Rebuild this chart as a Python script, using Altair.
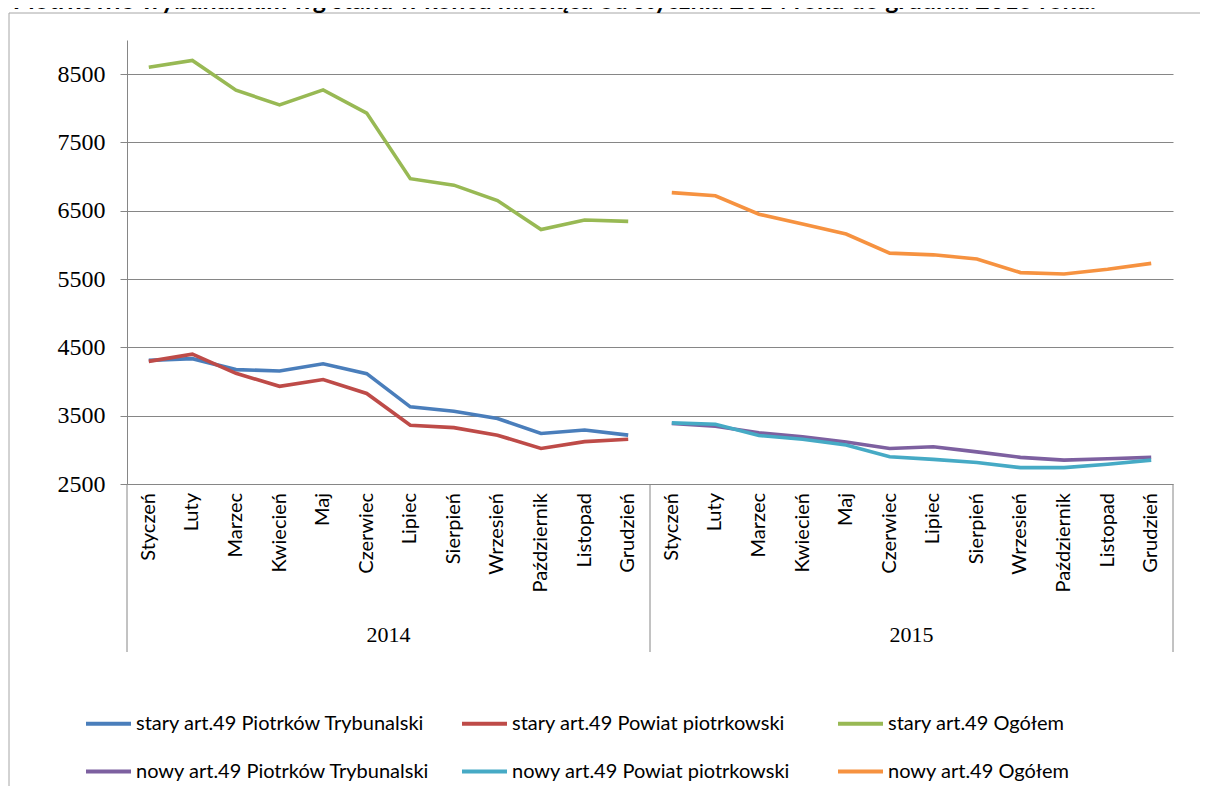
import altair as alt
import pandas as pd

months = ["Styczeń", "Luty", "Marzec", "Kwiecień", "Maj", "Czerwiec", "Lipiec",
          "Sierpień", "Wrzesień", "Październik", "Listopad", "Grudzień"]
years = ["2014", "2015"]

series_names = [
    "stary art.49 Piotrków Trybunalski",
    "stary art.49 Powiat piotrkowski",
    "stary art.49 Ogółem",
    "nowy art.49 Piotrków Trybunalski",
    "nowy art.49 Powiat piotrkowski",
    "nowy art.49 Ogółem",
]
colors = ["#4A7EBB", "#BE4B48", "#98B954", "#7D60A0", "#46AAC5", "#F69240"]

stary_pt = [4310, 4335, 4175, 4155, 4260, 4115, 3630, 3565, 3460, 3240, 3290, 3215]
stary_pow = [4295, 4400, 4120, 3930, 4030, 3825, 3360, 3325, 3215, 3020, 3120, 3155]
stary_og = [8600, 8700, 8265, 8050, 8270, 7930, 6970, 6875, 6650, 6225, 6365, 6345]
nowy_pt = [3385, 3345, 3250, 3190, 3115, 3020, 3045, 2970, 2890, 2850, 2870, 2890]
nowy_pow = [3395, 3375, 3210, 3155, 3070, 2900, 2860, 2815, 2740, 2740, 2790, 2850]
nowy_og = [6765, 6720, 6450, 6305, 6160, 5880, 5855, 5795, 5595, 5575, 5645, 5730]

y_ticks = [2500, 3500, 4500, 5500, 6500, 7500, 8500]
title_text = "w Piotrkowie Trybunalskim wg stanu w końcu miesiąca od stycznia 2014 roku do grudnia 2015 roku."

# ---- build tables ----
rows = []
for name, vals, yi in [
    (series_names[0], stary_pt, 0), (series_names[1], stary_pow, 0), (series_names[2], stary_og, 0),
    (series_names[3], nowy_pt, 1), (series_names[4], nowy_pow, 1), (series_names[5], nowy_og, 1),
]:
    for m, v in enumerate(vals):
        rows.append({"series": name, "pos": yi * 12 + m + 0.5, "value": v})
df = pd.DataFrame(rows)

# legend is filled column by column (2 rows x 3 columns): reorder so rows read as in the reference
legend_order = [series_names[i] for i in (0, 3, 1, 4, 2, 5)]
legend_colors = [colors[i] for i in (0, 3, 1, 4, 2, 5)]

month_df = pd.DataFrame([{"pos": yi * 12 + m + 0.5, "label": months[m]}
                         for yi in range(2) for m in range(12)])
year_df = pd.DataFrame([{"pos": yi * 12 + 6, "label": years[yi]} for yi in range(2)])
sep_df = pd.DataFrame({"pos": [0, 12, 24]})

W, H = 1046, 444
GRID = "#868686"

xscale = alt.Scale(domain=[0, 24])

lines = alt.Chart(df).mark_line(strokeWidth=3.6).encode(
    x=alt.X("pos:Q", scale=xscale, axis=None),
    y=alt.Y("value:Q",
            scale=alt.Scale(domain=[2500, 9000], nice=False, zero=False),
            axis=alt.Axis(values=y_ticks, title=None, grid=True, gridColor=GRID, format="d",
                          domainColor=GRID, tickColor=GRID, tickSize=7,
                          labelFont="Liberation Serif", labelFontSize=24,
                          labelColor="black", labelPadding=15)),
    color=alt.Color("series:N",
                    scale=alt.Scale(domain=legend_order, range=legend_colors),
                    sort=legend_order,
                    legend=alt.Legend(title=None, orient="none", legendX=-43, legendY=659,
                                      columns=3, gridAlign="all", symbolType="stroke",
                                      symbolStrokeWidth=4, symbolSize=2025,
                                      labelFont="Lato", labelFontSize=20,
                                      labelColor="black", labelLimit=500,
                                      labelOffset=3, columnPadding=24, rowPadding=13)),
)

month_labels = alt.Chart(month_df).mark_text(
    angle=270, align="right", baseline="middle", font="Lato", fontSize=20, color="black"
).encode(x=alt.X("pos:Q", scale=xscale), y=alt.value(H + 9), text="label:N")

year_labels = alt.Chart(year_df).mark_text(
    align="center", baseline="middle", font="Liberation Serif", fontSize=22, color="black"
).encode(x=alt.X("pos:Q", scale=xscale), y=alt.value(H + 151), text="label:N")

seps = alt.Chart(sep_df).mark_rule(color=GRID, strokeWidth=1).encode(
    x=alt.X("pos:Q", scale=xscale), y=alt.value(H), y2=alt.value(H + 168))

frame_left = alt.Chart(sep_df.head(1)).mark_rule(color="#A6A6A6", strokeWidth=1).encode(
    x=alt.value(-118), y=alt.value(-27), y2=alt.value(H + 400))
frame_top = alt.Chart(sep_df.head(1)).mark_rule(color="#A6A6A6", strokeWidth=1).encode(
    x=alt.value(-118), x2=alt.value(W + 60), y=alt.value(-27))

title = alt.Chart(pd.DataFrame({"t": [title_text]})).mark_text(
    align="right", baseline="alphabetic", font="Lato", fontSize=25, fontWeight="bold",
    color="black"
).encode(x=alt.value(969), y=alt.value(-31), text="t:N")

chart = alt.layer(frame_left, frame_top, title, lines, month_labels, year_labels, seps).properties(
    width=W, height=H,
    autosize=alt.AutoSizeParams(type="none"),
    padding={"left": 119, "top": 32, "right": 27, "bottom": 302},
    background="white",
).configure_view(strokeWidth=0)

chart.save("out.html", embed_options={"renderer": "svg", "actions": False})
